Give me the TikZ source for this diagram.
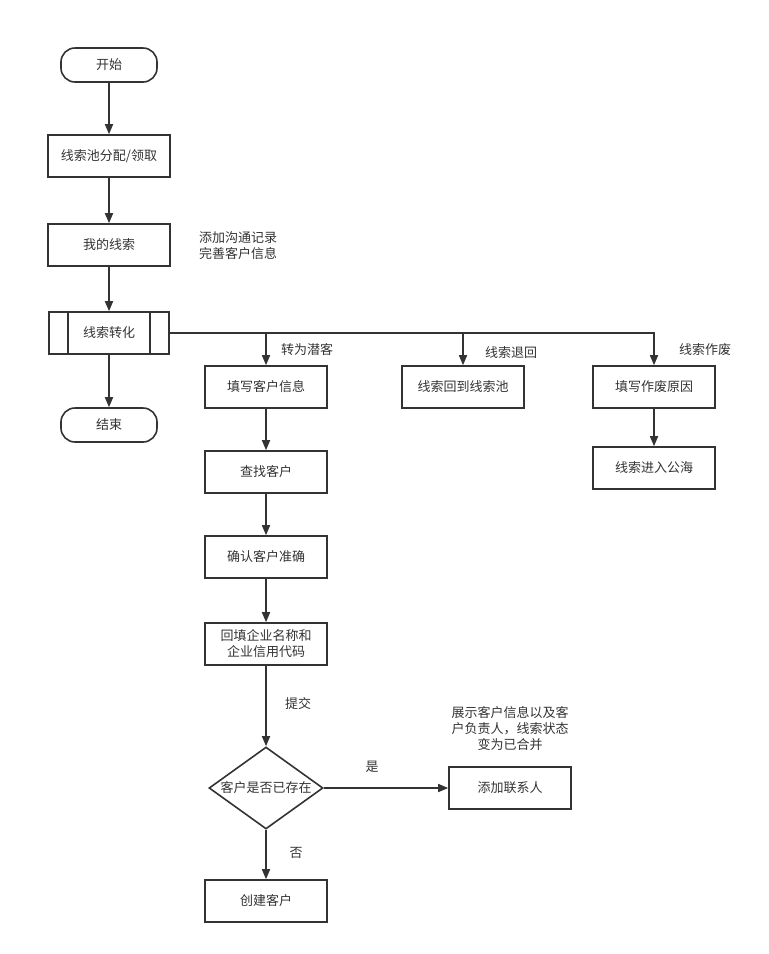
\documentclass[tikz,border=0pt]{standalone}
\usepackage{fontspec}
\setmainfont{Noto Sans CJK SC}
\usetikzlibrary{arrows.meta,shapes.geometric}

\tikzset{
  box/.style={draw=black!80, line width=1.6pt, minimum width=122pt, minimum height=42pt, inner sep=0pt, text=black!80, align=center},
  term/.style={draw=black!80, line width=1.6pt, rounded corners=14pt, minimum width=96pt, minimum height=34pt, inner sep=0pt, text=black!80},
  decide/.style={draw=black!80, line width=1.6pt, diamond, aspect=1.39, minimum width=114pt, minimum height=82pt, inner sep=0pt, text=black!80},
  note/.style={text=black!80, align=center, inner sep=0pt},
  arr/.style={draw=black!80, line width=1.6pt, -{Triangle[length=10pt,width=8pt]}},
  ln/.style={draw=black!80, line width=1.6pt}
}

\begin{document}
\begin{tikzpicture}[x=1pt,y=-1pt,font=\fontsize{13pt}{16pt}\selectfont]
\useasboundingbox (0,0) rectangle (769,954);

% main column
\node [term] (start) at (109,65) {开始};
\node [box] (pool) at (109,156) {线索池分配/领取};
\node [box] (mine) at (109,245) {我的线索};
\node [box, minimum width=120pt] (conv) at (109,333) {线索转化};
\draw [ln] ([xshift=20pt]conv.north west) -- ([xshift=20pt]conv.south west);
\draw [ln] ([xshift=-20pt]conv.north east) -- ([xshift=-20pt]conv.south east);
\node [term] (end) at (109,425) {结束};
\node [note, align=left, anchor=west] (memo) at (199,246) {添加沟通记录\\完善客户信息};

\draw [arr] (start) -- (pool);
\draw [arr] (pool) -- (mine);
\draw [arr] (mine) -- (conv);
\draw [arr] (conv) -- (end);

% branches
\node [box] (fill) at (266,387) {填写客户信息};
\node [box] (back) at (463,387) {线索回到线索池};
\node [box] (why) at (654,387) {填写作废原因};
\node [box] (sea) at (654,468) {线索进入公海};

\draw [arr] (conv.east) -| (why.north);
\draw [arr] (conv.east -| fill.north) -- (fill.north);
\draw [arr] (conv.east -| back.north) -- (back.north);
\draw [arr] (why) -- (sea);

\node [note] (lbla) at (307,350) {转为潜客};
\node [note] (lblb) at (511,353) {线索退回};
\node [note] (lblc) at (705,350) {线索作废};

% potential customer
\node [box] (find) at (266,472) {查找客户};
\node [box] (check) at (266,557) {确认客户准确};
\node [box] (corp) at (266,644) {回填企业名称和\\企业信用代码};
\node [decide] (exist) at (266,788) {客户是否已存在};
\node [box] (contact) at (510,788) {添加联系人};
\node [box] (create) at (266,901) {创建客户};

\draw [arr] (fill) -- (find);
\draw [arr] (find) -- (check);
\draw [arr] (check) -- (corp);
\draw [arr] (corp) -- (exist);
\draw [arr] (exist) -- (contact);
\draw [arr] (exist) -- (create);

\node [note] (lbld) at (298,704) {提交};
\node [note] (lble) at (372,767) {是};
\node [note] (lblf) at (296,853) {否};
\node [note] (merge) at (510,729) {展示客户信息以及客\\户负责人，线索状态\\变为已合并};

\end{tikzpicture}
\end{document}
